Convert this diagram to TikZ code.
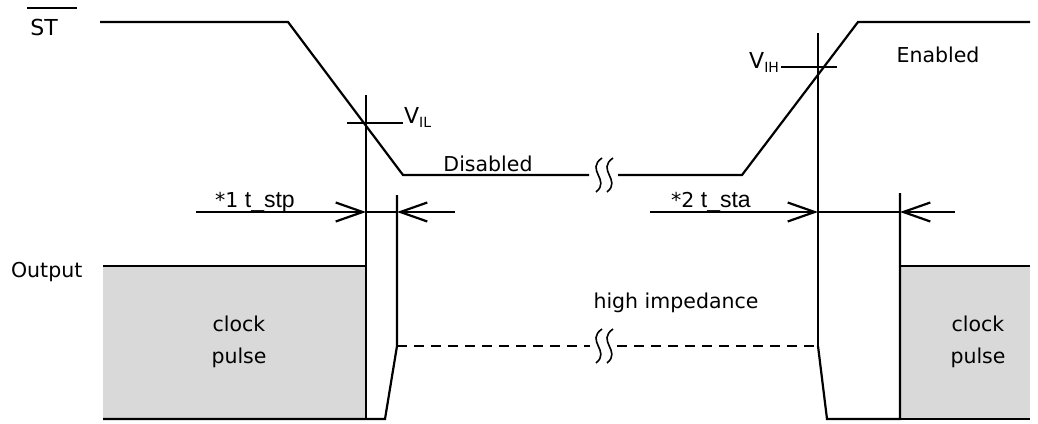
\documentclass[tikz,border=0pt]{standalone}
\usepackage{fontspec}
\setmainfont{DejaVu Sans}
\newfontfamily\arialfont{Liberation Sans}
\usetikzlibrary{arrows.meta}

\begin{document}
\begin{tikzpicture}[x=1pt, y=-1pt, line width=2.2pt, font=\fontsize{20.5}{32}\selectfont]
		\tikzset{tarrow/.style={-{Straight Barb[length=27pt, width=19pt, line width=2.2pt]}},
			lbl/.style={inner sep=0pt},
			hiz/.style={dash pattern=on 10pt off 7pt},
			gap/.style={line width=1.6pt}}
		\useasboundingbox (0,0) rectangle (1038,423);
		% ST signal
		\coordinate (st0) at (100,22);
		\coordinate (st1) at (288,22);
		\coordinate (st2) at (403,175);
		\coordinate (brkA) at (589,175);
		\coordinate (brkB) at (618,175);
		\coordinate (st3) at (742,175);
		\coordinate (st4) at (858,22);
		\coordinate (st5) at (1030,22);
		\draw (st0) -- (st1) -- (st2) -- (brkA);
		\draw (brkB) -- (st3) -- (st4) -- (st5);
		\node[lbl, font=\fontsize{22}{26}\selectfont] (st) at (44,27) {ST};
		\draw[line width=2pt] (27,8) -- (77,8);
		% break marks
		\foreach \bx/\by in {598/175, 609/175, 598/346, 609/346}
			\draw[gap] (\bx+4,\by-17) .. controls (\bx-13,\by-5) and (\bx+13,\by+5) .. (\bx-2,\by+17);
		% thresholds
		\coordinate (vilT) at (366,95);
		\coordinate (vilB) at (366,419);
		\draw (347,123) -- (403,123);
		\node[lbl, anchor=west] (vil) at (403,117) {\fontsize{22}{26}\selectfont V\raisebox{-4pt}{\fontsize{14}{16}\selectfont IL}};
		\coordinate (vihT) at (818,33);
		\coordinate (vihB) at (818,346);
		\draw (781,67) -- (837,67);
		\node[lbl, anchor=east] (vih) at (780,62) {\fontsize{22}{26}\selectfont V\raisebox{-4pt}{\fontsize{14}{16}\selectfont IH}};
		\node[lbl] (dis) at (488,164) {Disabled};
		\node[lbl] (ena) at (938,55) {Enabled};
		% output
		\node[lbl, anchor=west] (out) at (10,272) {Output};
		\fill[gray!30] (103,266) rectangle (366,419);
		\fill[gray!30] (900,266) rectangle (1030,419);
		\draw (vilT) -- (vilB);
		\draw (vihT) -- (vihB);
		\draw (103,266) -- (366,266);
		\draw (900,266) -- (1030,266);
		\coordinate (hzL) at (397,346);
		\coordinate (hzR) at (818,346);
		\draw (103,419) -- (385,419) -- (hzL) -- (397,195);
		\draw (900,193) -- (900,419) -- (827,419) -- (hzR);
		\draw (900,419) -- (1030,419);
		\draw[hiz] (hzL) -- (590,346);
		\draw[hiz] (617,346) -- (hzR);
		\node[lbl] (hi) at (676,303) {high impedance};
		\node[lbl, align=center] (cpL) at (239,342) {clock\\pulse};
		\node[lbl, align=center] (cpR) at (978,342) {clock\\pulse};
		% timings
		\coordinate (a1) at (196,212);
		\coordinate (a2) at (366,212);
		\coordinate (a3) at (397,212);
		\coordinate (a4) at (455,212);
		\draw[tarrow] (a1) -- (a2);
		\draw (a2) -- (a3);
		\draw[tarrow] (a4) -- (a3);
		\node[lbl, anchor=base west] (n1) at (214,207) {*1 \arialfont\fontsize{23}{26}\selectfont t\_stp};
		\coordinate (b1) at (650,212);
		\coordinate (b2) at (818,212);
		\coordinate (b3) at (900,212);
		\coordinate (b4) at (955,212);
		\draw[tarrow] (b1) -- (b2);
		\draw (b2) -- (b3);
		\draw[tarrow] (b4) -- (b3);
		\node[lbl, anchor=base west] (n2) at (670,207) {*2 \arialfont\fontsize{23}{26}\selectfont t\_sta};
	\end{tikzpicture}
\end{document}
